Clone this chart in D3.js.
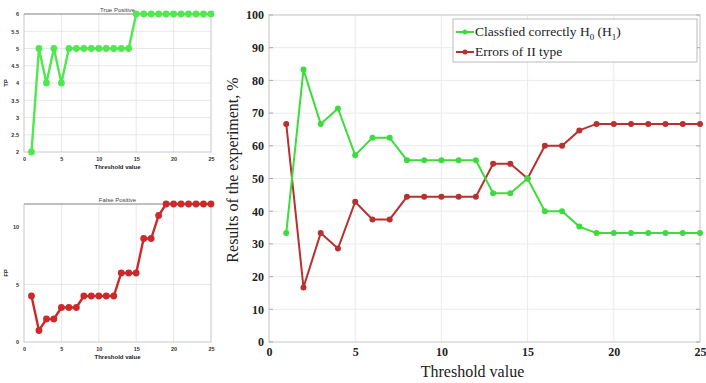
<!DOCTYPE html>
<html>
<head>
<meta charset="utf-8">
<script src="https://cdn.jsdelivr.net/npm/d3@7"></script>
<style>
  body { margin: 0; background: #fff; }
  svg { display: block; }
</style>
</head>
<body>
<div id="container"></div>
<script>
  // threshold values 1..25
  const thresholds = [1,2,3,4,5,6,7,8,9,10,11,12,13,14,15,16,17,18,19,20,21,22,23,24,25];
  const truePositive = [2,5,4,5,4,5,5,5,5,5,5,5,5,5,6,6,6,6,6,6,6,6,6,6,6];
  const falsePositive = [4,1,2,2,3,3,3,4,4,4,4,4,6,6,6,9,9,11,12,12,12,12,12,12,12];
  const classifiedCorrectly = [33.3,83.3,66.7,71.4,57.1,62.5,62.5,55.6,55.6,55.6,55.6,55.6,45.5,45.5,50,40,40,35.3,33.3,33.3,33.3,33.3,33.3,33.3,33.3];
  const errorsII = [66.7,16.7,33.3,28.6,42.9,37.5,37.5,44.4,44.4,44.4,44.4,44.4,54.5,54.5,50,60,60,64.7,66.7,66.7,66.7,66.7,66.7,66.7,66.7];
  const xTicks = [0,5,10,15,20,25];
  const tpTicks = [2,2.5,3,3.5,4,4.5,5,5.5,6];
  const fpTicks = [0,5,10];
  const mainYTicks = [0,10,20,30,40,50,60,70,80,90,100];

  const W = 706, H = 383;
  const svg = d3.select("#container").append("svg").attr("width", W).attr("height", H);

  // small MATLAB-like panel
  function smallPanel(box, values, yDomain, yTicks, color, title, ylab) {
    const x = d3.scaleLinear().domain([0, 25]).range([box.x0, box.x1]);
    const y = d3.scaleLinear().domain(yDomain).range([box.y1, box.y0]);
    const g = svg.append("g");
    g.append("g").selectAll("line").data(xTicks.slice(1, -1)).join("line")
      .attr("x1", d => x(d)).attr("x2", d => x(d)).attr("y1", box.y0).attr("y2", box.y1)
      .attr("stroke", "#e2e2e2").attr("stroke-width", 0.8);
    g.append("g").selectAll("line").data(yTicks.slice(1, -1)).join("line")
      .attr("x1", box.x0).attr("x2", box.x1).attr("y1", d => y(d)).attr("y2", d => y(d))
      .attr("stroke", "#e2e2e2").attr("stroke-width", 0.8);
    g.append("rect").attr("x", box.x0).attr("y", box.y0)
      .attr("width", box.x1 - box.x0).attr("height", box.y1 - box.y0)
      .attr("fill", "none").attr("stroke", "#c8c8c8");
    g.append("line").attr("x1", box.x0).attr("x2", box.x1).attr("y1", box.y0).attr("y2", box.y0)
      .attr("stroke", "#9a9a9a");

    const fmt = d3.format("~g");
    const xa = g.append("g").attr("transform", `translate(0,${box.y1})`)
      .call(d3.axisBottom(x).tickValues(xTicks).tickFormat(fmt).tickSize(0).tickPadding(5));
    const ya = g.append("g").attr("transform", `translate(${box.x0},0)`)
      .call(d3.axisLeft(y).tickValues(yTicks).tickFormat(fmt).tickSize(0).tickPadding(5));
    [xa, ya].forEach(a => {
      a.select(".domain").remove();
      a.selectAll("text").attr("font-family", "Liberation Sans, Arial").attr("font-size", 5.5)
        .attr("font-weight", "bold").attr("fill", "#333");
    });

    const line = d3.line().x((d, i) => x(thresholds[i])).y(d => y(d));
    g.append("path").datum(values).attr("d", line)
      .attr("fill", "none").attr("stroke", color).attr("stroke-width", 2.4);
    g.append("g").selectAll("circle").data(values).join("circle")
      .attr("cx", (d, i) => x(thresholds[i])).attr("cy", d => y(d)).attr("r", 3.4)
      .attr("fill", color);

    g.append("text").attr("x", (box.x0 + box.x1) / 2).attr("y", box.y0 - 2)
      .attr("text-anchor", "middle").attr("font-family", "Liberation Sans, Arial")
      .attr("font-size", 6).attr("fill", "#444").text(title);
    g.append("text").attr("x", (box.x0 + box.x1) / 2).attr("y", box.y1 + 17)
      .attr("text-anchor", "middle").attr("font-family", "Liberation Sans, Arial")
      .attr("font-size", 6).attr("font-weight", "bold").attr("fill", "#222").text("Threshold value");
    g.append("text").attr("transform", `translate(${box.x0 - 16},${(box.y0 + box.y1) / 2}) rotate(-90)`)
      .attr("text-anchor", "middle").attr("font-family", "Liberation Sans, Arial")
      .attr("font-size", 6).attr("font-weight", "bold").attr("fill", "#222").text(ylab);
  }

  smallPanel({x0: 24, x1: 211, y0: 14, y1: 152}, truePositive, [2, 6], tpTicks, "#4fe84f", "True Positive", "TP");
  smallPanel({x0: 24, x1: 211, y0: 204, y1: 342}, falsePositive, [0, 12], fpTicks, "#cc2a2a", "False Positive", "FP");

  // main chart
  const m = {x0: 269, x1: 700, y0: 15, y1: 342};
  const x = d3.scaleLinear().domain([0, 25]).range([m.x0, m.x1]);
  const y = d3.scaleLinear().domain([0, 100]).range([m.y1, m.y0]);
  const mg = svg.append("g");

  mg.append("g").selectAll("line").data(xTicks.slice(1, -1)).join("line")
    .attr("x1", d => x(d)).attr("x2", d => x(d)).attr("y1", m.y0).attr("y2", m.y1)
    .attr("stroke", "#ebebeb");
  mg.append("g").selectAll("line").data(mainYTicks.slice(1, -1)).join("line")
    .attr("x1", m.x0).attr("x2", m.x1).attr("y1", d => y(d)).attr("y2", d => y(d))
    .attr("stroke", "#ebebeb");
  mg.append("rect").attr("x", m.x0).attr("y", m.y0)
    .attr("width", m.x1 - m.x0).attr("height", m.y1 - m.y0)
    .attr("fill", "none").attr("stroke", "#c4c4c4");

  // inward ticks on left and right
  mg.append("g").selectAll("line").data(mainYTicks).join("line")
    .attr("x1", m.x0).attr("x2", m.x0 + 4).attr("y1", d => y(d)).attr("y2", d => y(d))
    .attr("stroke", "#aaa");
  mg.append("g").selectAll("line").data(mainYTicks).join("line")
    .attr("x1", m.x1).attr("x2", m.x1 - 4).attr("y1", d => y(d)).attr("y2", d => y(d))
    .attr("stroke", "#aaa");

  const mxa = mg.append("g").attr("transform", `translate(0,${m.y1})`)
    .call(d3.axisBottom(x).tickValues(xTicks).tickSize(0).tickPadding(5));
  const mya = mg.append("g").attr("transform", `translate(${m.x0},0)`)
    .call(d3.axisLeft(y).tickValues(mainYTicks).tickSize(0).tickPadding(5));
  [mxa, mya].forEach(a => {
    a.select(".domain").remove();
    a.selectAll("text").attr("font-family", "Liberation Serif, Times New Roman, serif")
      .attr("font-size", 12).attr("font-weight", "bold").attr("fill", "#222");
  });

  const greenMain = "#3ddc3d", redMain = "#b8302f";
  const mline = d3.line().x((d, i) => x(thresholds[i])).y(d => y(d));
  [[errorsII, redMain], [classifiedCorrectly, greenMain]].forEach(([vals, col]) => {
    mg.append("path").datum(vals).attr("d", mline)
      .attr("fill", "none").attr("stroke", col).attr("stroke-width", 2);
    mg.append("g").selectAll("circle").data(vals).join("circle")
      .attr("cx", (d, i) => x(thresholds[i])).attr("cy", d => y(d)).attr("r", 3)
      .attr("fill", col);
  });

  mg.append("text").attr("x", (m.x0 + m.x1) / 2 - 12).attr("y", 377)
    .attr("text-anchor", "middle").attr("font-family", "Liberation Serif, Times New Roman, serif")
    .attr("font-size", 16).attr("fill", "#222").text("Threshold value");
  mg.append("text").attr("transform", `translate(238,170) rotate(-90)`)
    .attr("text-anchor", "middle").attr("font-family", "Liberation Serif, Times New Roman, serif")
    .attr("font-size", 16).attr("fill", "#222").text("Results of the experiment, %");

  // legend
  const lg = mg.append("g").attr("transform", "translate(453,19)");
  lg.append("rect").attr("width", 244).attr("height", 43).attr("fill", "#fff").attr("stroke", "#bbb");
  const items = [
    {col: greenMain, y: 13},
    {col: redMain, y: 33}
  ];
  lg.selectAll("g.item").data(items).join("g").attr("class", "item").each(function (d) {
    const it = d3.select(this);
    it.append("line").attr("x1", 3).attr("x2", 21).attr("y1", d.y).attr("y2", d.y)
      .attr("stroke", d.col).attr("stroke-width", 2);
    it.append("circle").attr("cx", 12).attr("cy", d.y).attr("r", 2.5).attr("fill", d.col);
  });
  const t1 = lg.append("text").attr("x", 22).attr("y", 17)
    .attr("font-family", "Liberation Serif, Times New Roman, serif").attr("font-size", 13.5).attr("fill", "#222");
  t1.append("tspan").text("Classfied correctly H");
  t1.append("tspan").attr("font-size", 9).attr("dy", 4).text("0");
  t1.append("tspan").attr("dy", -4).text(" (H");
  t1.append("tspan").attr("font-size", 9).attr("dy", 4).text("1");
  t1.append("tspan").attr("dy", -4).text(")");
  lg.append("text").attr("x", 22).attr("y", 37)
    .attr("font-family", "Liberation Serif, Times New Roman, serif").attr("font-size", 13.5).attr("fill", "#222")
    .text("Errors of II type");
</script>
</body>
</html>
